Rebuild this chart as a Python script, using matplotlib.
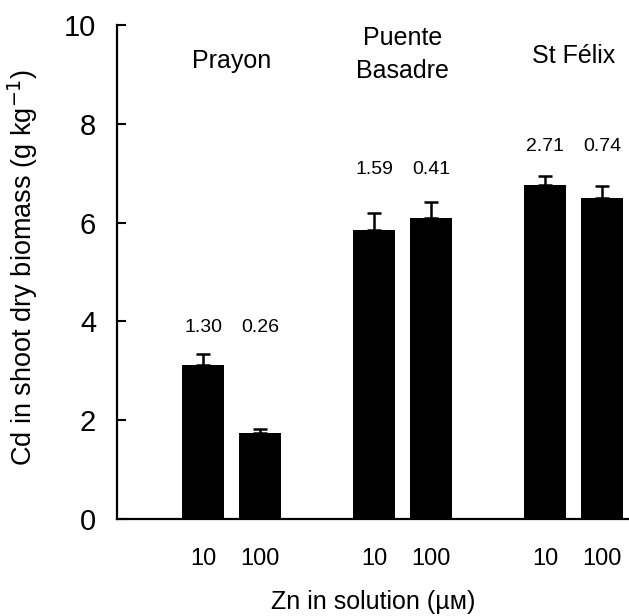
import matplotlib
matplotlib.use("Agg")
import matplotlib.pyplot as plt
import numpy as np

plt.rcParams['font.family'] = ['Liberation Sans', 'DejaVu Sans']

groups = ["Prayon", "Puente\nBasadre", "St Félix"]
zn_labels = ["10", "100"]
cd_means = [[3.12, 1.74], [5.85, 6.10], [6.76, 6.50]]
cd_err = [[0.22, 0.08], [0.35, 0.32], [0.19, 0.25]]
ratio_labels = [["1.30", "0.26"], ["1.59", "0.41"], ["2.71", "0.74"]]

# layout
group_spacing = 3.0
pair_offset = 1.0
bar_width = 0.74
ratio_y = [3.78, 6.99, 7.45]
group_name_y = [9.13, 8.93, 9.23]

fig = plt.figure(figsize=(6.29, 6.16), dpi=100)
ax = fig.add_axes([117/629, 97/616, 1 - 117/629, 494/616])

xs, heights, errs, ticklabels = [], [], [], []
for g in range(len(groups)):
    for j in range(2):
        xs.append(g * group_spacing + j * pair_offset)
        heights.append(cd_means[g][j])
        errs.append(cd_err[g][j])
        ticklabels.append(zn_labels[j])

ax.bar(xs, heights, width=bar_width, color='black', zorder=2)
ax.errorbar(xs, heights, yerr=[np.zeros(len(errs)), errs], fmt='none',
            ecolor='black', elinewidth=1.8, capsize=5, capthick=1.8, zorder=1)

for g in range(len(groups)):
    for j in range(2):
        ax.text(g * group_spacing + j * pair_offset, ratio_y[g], ratio_labels[g][j],
                ha='center', va='baseline', fontsize=14)
    ax.text(g * group_spacing + 0.5 * pair_offset, group_name_y[g], groups[g],
            ha='center', va='baseline', fontsize=18, linespacing=1.45)

ax.set_xlim(-1.51, 7.47)
ax.set_ylim(0, 10)
ax.set_yticks([0, 2, 4, 6, 8, 10])
ax.set_xticks(xs)
ax.set_xticklabels(ticklabels)
ax.tick_params(axis='y', direction='in', length=6.5, width=1.5, labelsize=21, pad=15)
ax.tick_params(axis='x', length=0, labelsize=17, pad=21)

for s in ['top', 'right']:
    ax.spines[s].set_visible(False)
for s in ['left', 'bottom']:
    ax.spines[s].set_linewidth(1.6)

ax.set_ylabel("Cd in shoot dry biomass (g kg$^{-1}$)", fontsize=19.5, va='baseline')
ax.yaxis.set_label_coords(-0.166, 0.51)
ax.set_xlabel("Zn in solution (µᴍ)", fontsize=18, va='baseline')
ax.xaxis.set_label_coords(0.5, (519 - 609) / 494)

fig.savefig("out.png", dpi=100)
